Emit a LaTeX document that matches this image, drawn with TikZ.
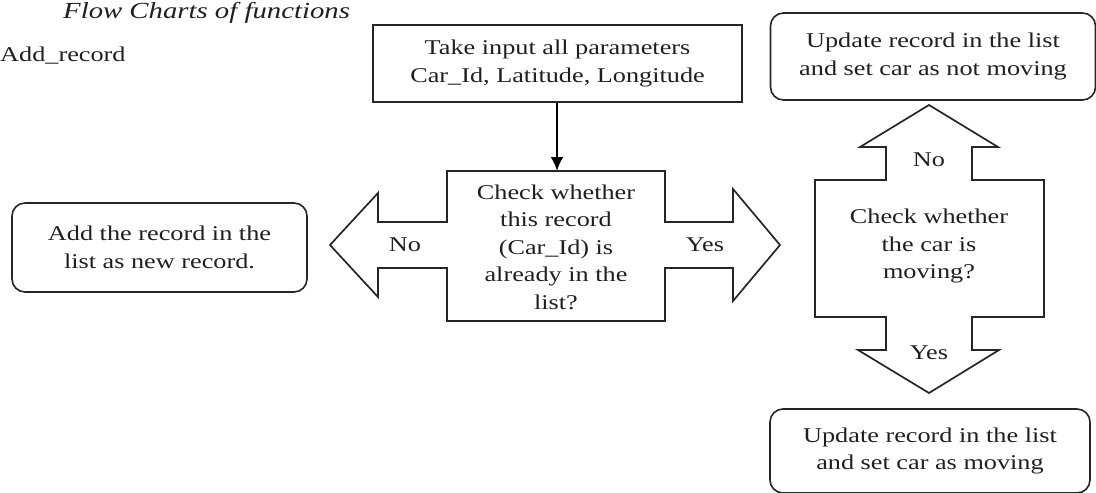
\documentclass[tikz,border=0pt]{standalone}
\usepackage{fontspec}
\setmainfont{Liberation Serif}[FakeStretch=1.25]
\usetikzlibrary{arrows.meta}
\begin{document}
\begin{tikzpicture}[x=1pt,y=-1pt,
  txt/.style={text=black!88,font=\fontsize{21}{27.5}\selectfont,align=center,inner sep=0pt},
  procbox/.style={draw=black!85,line width=1.8pt,minimum width=#1,txt},
  roundbox/.style={draw=black!85,line width=1.6pt,rounded corners=13pt,txt},
  arrowshape/.style={draw=black!85,line width=1.7pt,line join=miter},
  flow/.style={draw=black,line width=2.4pt,-{Latex[length=14pt,width=13pt]}}]
\useasboundingbox (0,0) rectangle (1096,493);
% titles
\node[txt,anchor=west,font=\fontsize{23}{27}\selectfont\itshape] (title) at (63,13) {Flow Charts of functions};
\node[txt,anchor=west] (fn) at (0,56) {Add\_record};
% top process box
\node[procbox=369pt,minimum height=77pt] (input) at (557.5,63.5) {Take input all parameters\\Car\_Id, Latitude, Longitude};
% decision 1 with arrows
\draw[arrowshape] (447,171) -- (665,171) -- (665,222) -- (733,222) -- (733,189) -- (780,245)
  -- (733,301) -- (733,268) -- (665,268) -- (665,321) -- (447,321) -- (447,268)
  -- (378,268) -- (378,297) -- (330,245) -- (378,193) -- (378,222) -- (447,222) -- cycle;
\coordinate (d1top) at (557,171);
\node[txt] (d1) at (556,247) {Check whether\\this record\\(Car\_Id) is\\already in the\\list?};
\node[txt] (no1) at (405,245) {No};
\node[txt] (yes1) at (705,245) {Yes};
\draw[flow] (input.south -| d1top) -- (d1top);
% left result
\node[roundbox,minimum width=295pt,minimum height=89pt] (newrec) at (159.5,247.5) {Add the record in the\\list as new record.};
% decision 2 with arrows
\draw[arrowshape] (815,180) -- (886,180) -- (886,147) -- (860,147) -- (929,105) -- (998,147)
  -- (972,147) -- (972,180) -- (1044,180) -- (1044,317) -- (972,317) -- (972,350)
  -- (999,350) -- (929,393) -- (858,350) -- (886,350) -- (886,317) -- (815,317) -- cycle;
\node[txt] (d2) at (929,246) {Check whether\\the car is\\moving?};
\node[txt] (no2) at (929,160) {No};
\node[txt] (yes2) at (929,353) {Yes};
% right results
\node[roundbox,minimum width=325pt,minimum height=87pt] (notmov) at (933,56.5) {Update record in the list\\and set car as not moving};
\node[roundbox,minimum width=320pt,minimum height=84pt] (mov) at (930,451) {Update record in the list\\and set car as moving};
\end{tikzpicture}
\end{document}
